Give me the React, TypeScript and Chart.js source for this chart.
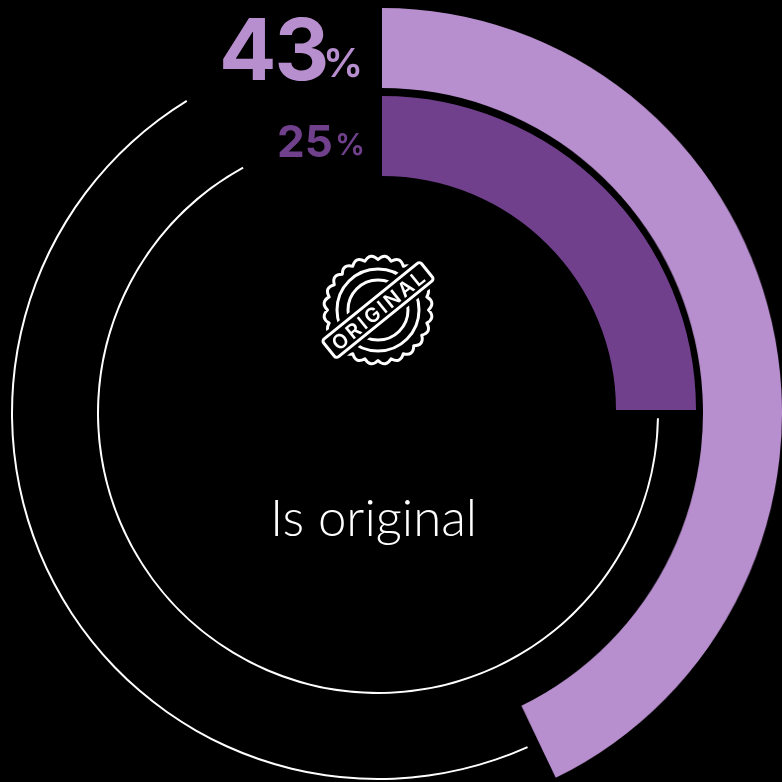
import React, { useEffect, useRef } from "react";
import { Chart, registerables } from "chart.js";

Chart.register(...registerables);

const ringLabels = ["Is original", "Rest", "Label gap"];
const outerValues = [42.85, 57.15];
const innerValues = [25, 75];
const outerRest = [43.3, 47.95, 8.75];
const innerRest = [25.3, 66.7, 8];
const LIGHT = "#b88fce";
const DARK = "#70408c";
const CLEAR = "rgba(0,0,0,0)";

type RingProps = {
  values: number[];
  colors: string[];
  cx: number;
  cy: number;
  outer: number;
  inner: number;
  squeeze?: number;
};

function Ring({ values, colors, cx, cy, outer, inner, squeeze = 1 }: RingProps) {
  const ref = useRef<HTMLCanvasElement | null>(null);
  useEffect(() => {
    const chart = new Chart(ref.current as HTMLCanvasElement, {
      type: "doughnut",
      data: {
        labels: ringLabels.slice(0, values.length),
        datasets: [{ data: values, backgroundColor: colors, borderWidth: 0, hoverOffset: 0 }],
      },
      options: {
        animation: false,
        responsive: false,
        cutout: inner,
        radius: outer,
        layout: { padding: 0 },
        plugins: { legend: { display: false }, tooltip: { enabled: false } },
      },
    });
    return () => chart.destroy();
  }, []);
  const size = Math.ceil(outer * 2);
  const w = size * squeeze;
  return (
    <canvas
      ref={ref}
      width={size}
      height={size}
      style={{ position: "absolute", left: cx - w / 2, top: cy - size / 2, width: w, height: size }}
    />
  );
}

function sealPath() {
  const n = 24;
  const R = 50.5;
  const amp = 4;
  let d = "";
  for (let i = 0; i < n; i++) {
    const a0 = (i / n) * Math.PI * 2;
    const a1 = ((i + 0.5) / n) * Math.PI * 2;
    const a2 = ((i + 1) / n) * Math.PI * 2;
    const p0 = [R * Math.cos(a0), R * Math.sin(a0)];
    const c = [(R + amp * 2) * Math.cos(a1), (R + amp * 2) * Math.sin(a1)];
    const p2 = [R * Math.cos(a2), R * Math.sin(a2)];
    if (i === 0) d += `M${p0[0].toFixed(1)} ${p0[1].toFixed(1)}`;
    d += `Q${c[0].toFixed(1)} ${c[1].toFixed(1)} ${p2[0].toFixed(1)} ${p2[1].toFixed(1)}`;
  }
  return d + "Z";
}

function Badge() {
  return (
    <svg width={140} height={140} viewBox="-70 -70 140 140" style={{ position: "absolute", left: 308, top: 239.5 }}>
      <path d={sealPath()} fill="none" stroke="#fff" strokeWidth={3} strokeLinejoin="round" />
      <circle r={41} fill="none" stroke="#fff" strokeWidth={3} />
      <circle r={30} fill="none" stroke="#fff" strokeWidth={3} />
      <g transform="rotate(-39)">
        <rect x={-63} y={-11.5} width={126} height={23} rx={3} fill="#000" stroke="#000" strokeWidth={9} />
        <rect x={-63} y={-11.5} width={126} height={23} rx={3} fill="#000" stroke="#fff" strokeWidth={3} />
        <text x={0} y={7.5} textAnchor="middle" fill="#fff" fontFamily="Inter" fontWeight={600} fontSize={20} textLength={113}>
          ORIGINAL
        </text>
      </g>
    </svg>
  );
}

const labelFont = "Inter, sans-serif";

export default function App() {
  return (
    <div style={{ position: "fixed", left: 0, top: 0, width: 782, height: 782, background: "#000", overflow: "hidden" }}>
      <Ring values={outerRest} colors={[CLEAR, "#fff", CLEAR]} cx={378} cy={413} outer={367} inner={365} />
      <Ring values={innerRest} colors={[CLEAR, "#fff", CLEAR]} cx={378} cy={413} outer={281} inner={279} />
      <Ring values={outerValues} colors={[LIGHT, CLEAR]} cx={382} cy={413} outer={405} inner={325} squeeze={400 / 405} />
      <Ring values={innerValues} colors={[DARK, CLEAR]} cx={382} cy={410} outer={314} inner={234} />
      <div style={{ position: "absolute", left: 219, top: 2, color: LIGHT, fontFamily: labelFont, fontWeight: 700, fontSize: 85, lineHeight: "96px", letterSpacing: -2 }}>43</div>
      <div style={{ position: "absolute", left: 323, top: 38, color: LIGHT, fontFamily: labelFont, fontWeight: 600, fontSize: 40, lineHeight: "50px" }}>%</div>
      <div style={{ position: "absolute", left: 277, top: 116, color: DARK, fontFamily: labelFont, fontWeight: 700, fontSize: 44, lineHeight: "50px" }}>25</div>
      <div style={{ position: "absolute", left: 335, top: 122, color: DARK, fontFamily: labelFont, fontWeight: 600, fontSize: 30, lineHeight: "44px" }}>%</div>
      <div style={{ position: "absolute", left: 270, top: 488, color: "#fff", fontFamily: "Lato, sans-serif", fontWeight: 300, fontSize: 51, lineHeight: "58px", whiteSpace: "nowrap" }}>Is original</div>
      <Badge />
    </div>
  );
}
